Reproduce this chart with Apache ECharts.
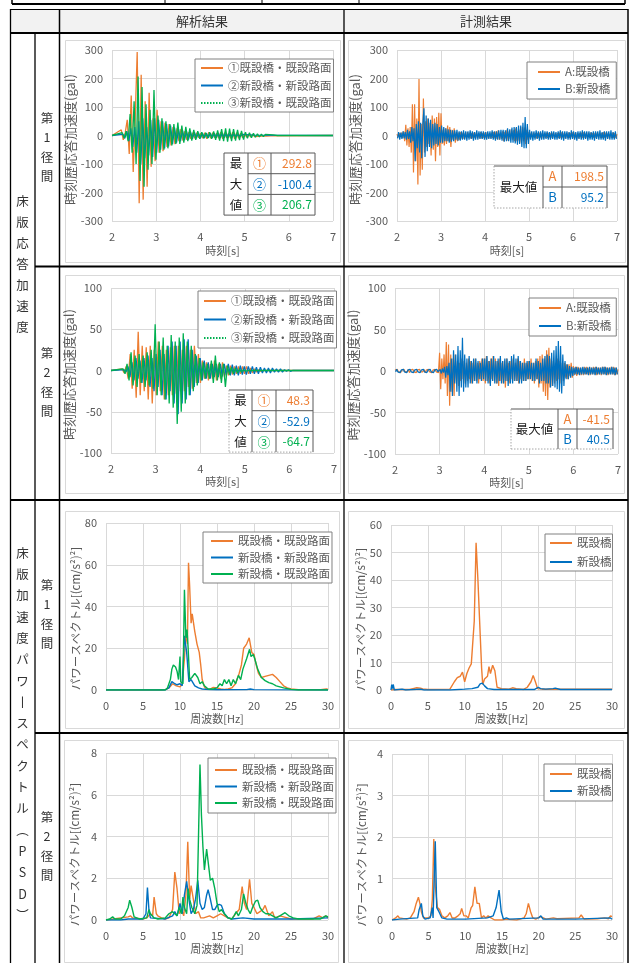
<!DOCTYPE html>
<html><head><meta charset="utf-8">
<script src="https://cdn.jsdelivr.net/npm/echarts@6/dist/echarts.min.js"></script>
<style>html,body{margin:0;padding:0;background:#fff;}#c{width:631px;height:963px;}</style>
</head><body><div id="c"></div>
<script>
// ---------------- DATA ----------------
const colHeaders = ['解析結果', '計測結果'];
const rowGroupLabels = ['床版応答加速度', '床版加速度パワースペクトル（PSD）'];
const spanLabels = ['第1径間', '第2径間', '第1径間', '第2径間'];

const anaNames = ['①既設橋・既設路面', '②新設橋・新設路面', '③新設橋・既設路面'];
const measNames = ['A:既設橋', 'B:新設橋'];
const psdAnaNames = ['既設橋・既設路面', '新設橋・新設路面', '新設橋・既設路面'];
const psdMeasNames = ['既設橋', '新設橋'];

const timeAxis = [2, 7, 1];
const accelAxis1 = [-300, 300, 100];
const accelAxis2 = [-100, 100, 50];
const freqAxis = [0, 30, 5];
const psdAxisA1 = [0, 80, 20];
const psdAxisM1 = [0, 60, 10];
const psdAxisA2 = [0, 8, 2];
const psdAxisM2 = [0, 4, 1];

// analysis time histories: sampled every ANA_STEP s from given start
const ANA_STEP = 0.045;
const ana1Start = [2.21, 2.245, 2.23];
const ana1_s1 = [20,-15,10,55,-65,140,-128,60,292.8,-238,213,-225,120,-180,150,-110,60,-90,90,-60,50,-55,45,-40,40,-35,30,-30,25,-20,22,-18,15,-15,12,-12,10,-10,10,-8,8,-10,10,-12,12,-10,10,-8,8,-10,12,-12,10,-8,8,-10,12,-12,10,-10,8,-8,6,-6,5,-5,4,-4,3,-3,2,-2,2,-2,1,-1,1,-1,0];
const ana1_s2 = [5,-10,15,-20,25,-40,30,-60,50,-100.4,60,-80,30,-70,55,-75,60,-60,55,-50,50,-45,40,-38,35,-30,28,-25,22,-20,18,-16,15,-14,13,-12,12,-10,10,-10,9,-9,8,-8,8,-8,8,-8,9,-9,9,-8,8,-7,7,-6,6,-5,5,-4,4,-3,3,-2,2,-1,1,0];
const ana1_s3 = [10,-10,15,-20,75,-60,120,-100,206.7,-160,170,-180,110,-120,90,-100,160,-85,70,-60,60,-50,50,-45,40,-35,40,-30,45,-30,35,-25,30,-20,25,-18,20,-15,15,-12,12,-10,10,-10,12,-12,14,-15,18,-18,22,-20,25,-22,24,-20,22,-18,20,-16,16,-14,12,-10,10,-8,8,-6,6,-5,5,-4,4,-3,3,-2,2,-1,0];
const ana1Max = [292.8, -100.4, 206.7];

const ana2Start = [2.25, 2.29, 2.27];
const ana2_s1 = [2,-3,5,-10,20,-22,25,-33,47,-30,30,-25,28,-35,30,-40,25,-30,35,-25,30,-35,25,-30,28,-30,30,-28,30,-25,25,-25,30,-20,25,-22,30,-15,20,-15,12,-10,10,-12,8,-10,12,-12,8,-10,10,-8,6,-6,6,-5,5,-4,5,-4,5,-4,5,-4,3,-3,2,-2,1,-1,0];
const ana2_s2 = [1,-2,5,-8,10,-12,15,-10,12,-15,15,-12,18,-20,15,-25,20,-20,25,-30,20,-35,30,-25,35,-40,30,-52.9,35,-40,38,-35,38,-30,25,-20,18,-15,15,-12,12,-10,10,-10,8,-8,8,-8,8,-7,8,-6,8,-6,7,-6,6,-6,6,-5,5,-5,5,-4,5,-4,4,-4,4,-3,3,-3,3,-3,3,-2,2,-2,2,-2,1,-1,1,-1,0];
const ana2_s3 = [2,-4,8,-12,22,-18,18,-20,20,-15,18,-20,22,-18,25,-22,56,-30,35,-30,40,-35,30,-40,43,-45,35,-64.7,40,-50,45,-40,35,-30,30,-25,20,-18,15,-12,10,-10,8,-10,12,-15,18,-12,10,-15,8,-20,6,-5,4,-4,3,-3,2,-2,1,-1,0];
const ana2Max = [48.3, -52.9, -64.7];

// measured time histories: sampled every MEAS_STEP s from given start
const MEAS_STEP = 0.025;
const meas1Start = [2.0, 2.0125];
const meas1_A = [5,-6,8,-5,10,-8,15,-20,38,-35,25,-40,30,-60,110,-130,110,-90,60,-172,198.5,-140,40,-120,130,-60,50,-40,60,-30,45,-70,70,-50,60,-90,65,-40,80,-70,
78,-30,20,-35,25,-30,35,-20,30,-40,20,-15,25,-25,12,-20,10,-15,12,-10,10,-12,8,-10,12,-8,10,-10,8,-10,10,-8,10,-8,8,-10,12,-10,8,-8,
10,-8,12,-10,8,-10,10,-8,12,-10,15,-12,18,-15,10,-12,15,-20,12,-10,20,-18,15,-12,22,-15,18,-20,25,-20,15,-18,20,-25,30,-20,28,-30,20,-15,
12,-10,10,-8,10,-8,8,-10,8,-8,10,-8,8,-10,8,-8,10,-8,8,-6,8,-8,10,-8,8,-6,8,-8,10,-8,12,-8,8,-10,8,-8,10,-8,8,-6,
12,-8,10,-8,8,-10,8,-6,10,-8,12,-8,8,-8,10,-8,10,-6,8,-8,8,-8,10,-6,10,-8,8,-8,12,-8,10,-6,8,-10,8,-8,10,-8,8,-8,5];
const meas1_B = [-10,12,-15,10,-12,15,-10,12,-15,20,-12,15,-25,30,-20,25,-90,40,-45,50,-60,45,-80,40,95.2,-75,70,-55,60,-40,55,-45,40,-35,45,-30,40,-35,30,-25,
35,-25,30,-20,25,-20,22,-25,20,-22,18,-20,18,-15,20,-18,15,-18,15,-15,18,-15,15,-18,15,-15,18,-12,15,-18,12,-15,18,-15,15,-12,15,-12,15,-15,
12,-15,15,-12,15,-12,18,-15,15,-18,15,-15,18,-15,20,-18,20,-22,18,-20,25,-20,22,-25,28,-25,30,-28,30,-32,35,-30,35,-40,45,-45,65,-45,40,-30,
20,-15,15,-18,15,-15,18,-12,15,-18,15,-15,18,-15,15,-12,15,-15,12,-15,15,-12,15,-15,12,-15,15,-12,18,-15,15,-18,15,-12,15,-15,12,-15,18,-12,
15,-15,12,-18,15,-12,15,-15,18,-15,15,-12,15,-18,15,-15,12,-15,15,-18,15,-12,15,-15,18,-15,12,-15,15,-18,15,-12,15,-15,18,-15,12,-15,15,-12];
const meas1Max = [198.5, 95.2];

const meas2Start = [2.0, 2.0125];
const meas2_A = [1,-1,2,-1,1,-2,1,-1,2,-1,1,-1,2,-2,1,-1,2,-1,1,-2,1,-1,2,-1,1,-1,2,-2,1,-1,2,-1,1,-2,1,-1,2,-1,1,-2,
22,-22,15,-10,20,-15,35,-30,32,-42,20,-25,15,-30,20,-15,12,-18,10,-12,15,-10,12,-15,10,-12,15,-10,12,-15,10,-12,15,-12,10,-15,12,-10,15,-12,
15,-15,18,-12,12,-15,15,-10,18,-12,15,-15,12,-18,15,-12,10,-15,12,-20,15,-12,10,-15,12,-10,15,-12,10,-12,15,-15,12,-10,10,-12,15,-12,10,-10,
12,-10,15,-12,10,-15,12,-10,15,-20,18,-15,20,-25,15,-30,25,-35,28,-20,15,-18,12,-15,10,-12,15,-10,12,-15,10,-12,10,-8,8,-10,8,-6,10,-8,
6,-5,5,-6,5,-4,4,-5,4,-5,5,-4,5,-4,4,-5,4,-4,5,-4,5,-5,4,-4,4,-5,5,-4,5,-4,4,-5,4,-4,5,-4,5,-5,4,-4,2];
const meas2_B = [-1,2,-1,1,-2,1,-1,2,-1,1,-2,1,-1,2,-1,1,-2,1,-1,2,-1,1,-2,1,-1,2,-1,1,-2,1,-1,2,-1,1,-2,1,-1,2,-1,1,
2,-3,3,-2,5,-8,6,-5,10,-25,15,-30,25,-15,20,-25,30,-30,25,-20,40,-25,20,-20,15,-20,18,-15,12,-15,15,-12,15,-15,12,-10,10,-12,15,-10,
15,-12,18,-15,12,-18,15,-12,18,-15,12,-15,15,-12,18,-15,12,-15,15,-12,15,-18,12,-15,18,-15,20,-12,15,-12,18,-15,12,-15,10,-12,10,-12,12,-10,
12,-10,10,-12,10,-12,15,-10,12,-15,10,-12,15,-12,18,-15,20,-15,18,-20,22,-18,25,-20,30,-22,36,-25,30,-27,20,-18,12,-10,8,-10,6,-8,5,-6,
4,-4,5,-4,4,-5,4,-4,5,-4,4,-4,4,-5,5,-4,4,-4,4,-5,5,-4,4,-4,4,-4,5,-4,5,-5,4,-4,4,-4,5,-4,4,-5,4,-4];
const meas2Max = [-41.5, 40.5];

// PSD curves: [frequency Hz, PSD]
const psdA1_1 = [[0,0],[7.5,0],[8,0.2],[8.5,1],[9,3],[9.5,2],[10,1.5],[10.3,3],[10.6,15],[10.8,27],[11.0,22],[11.15,61],[11.3,50],[11.5,32],[11.65,36.5],[12.0,28],[12.3,22],[12.6,18],[12.8,12],[13.0,5],[13.3,1.5],[13.6,0.5],[14,0.3],[14.5,1.2],[15,1],[15.5,0.5],[16,0.3],[16.5,0.5],[17,1],[17.5,3],[18,8],[18.3,12],[18.6,20],[19,22],[19.35,25],[19.7,18],[20,17],[20.3,12],[20.6,8],[21,6],[21.5,6.5],[22,7],[22.5,7.5],[23,6],[23.5,4],[24,2],[24.5,1],[25,0.5],[26,0.2],[29,0.2],[29.8,0.5],[30,0.3]];
const psdA1_2 = [[0,0],[8,0],[8.5,1],[8.9,4],[9.3,3],[9.6,2.5],[10,3],[10.3,2],[10.6,26],[10.9,18],[11.2,4],[11.5,5],[12,2],[12.5,1],[13,0.5],[14,0.2],[15,0.1],[19,0.2],[19.5,0.5],[20,0.2],[30,0]];
const psdA1_3 = [[0,0],[8,0],[8.3,1],[8.7,5],[8.9,10],[9.1,12],[9.4,11],[9.6,9],[9.8,5],[10.0,16],[10.1,4],[10.4,3],[10.6,48],[10.8,25],[10.95,29],[11.1,20],[11.3,5],[11.6,6],[12.0,8],[12.4,6],[12.7,3],[13.0,4],[13.3,2],[13.8,0.5],[14.5,0.5],[15,1],[15.4,3],[15.7,2],[16.0,5],[16.3,3],[16.6,5],[16.9,2],[17.2,5],[17.5,3],[17.9,7],[18.2,5],[18.5,10],[19.0,15],[19.4,19.5],[19.6,16],[19.9,17],[20.1,15],[20.5,10],[21,6],[21.5,4.5],[22,3.5],[22.5,3],[23,2],[24,1],[25,0.3],[26,0],[30,0]];

const psdM1_A = [[0,0],[0.5,0.2],[2.5,0.2],[3,0.5],[3.5,0.8],[4,0.7],[4.3,0.4],[5,0.2],[8,0.3],[8.2,1],[8.6,3],[9.0,4.5],[9.4,5],[9.7,6.5],[10.0,3],[10.3,6],[10.6,8],[10.9,9.5],[11.1,10],[11.3,25],[11.55,53.5],[11.8,40],[12.0,27],[12.3,8],[12.45,2],[12.7,4],[13.1,5],[13.3,8.5],[13.5,6],[13.8,9],[14.1,7],[14.4,1],[14.6,0.5],[15,0.5],[16,0.3],[16.5,0.8],[17,0.5],[18,0.2],[18.5,1],[19,3],[19.3,5.3],[19.6,3],[19.9,0.5],[20.5,0.3],[22,0.3],[30,0.3]];
const psdM1_B = [[0,0],[0.1,2],[0.2,0.5],[0.3,2],[0.45,0],[1.5,0.3],[2,0],[4,0.3],[4.5,0],[8,0],[10,0.3],[11,0.5],[11.8,1],[12.1,2.2],[12.4,2.5],[12.7,1.5],[13.1,0.5],[14,0.2],[19.5,0.2],[20,1],[20.3,0.5],[21,0.3],[22,0.5],[22.3,0.7],[23,0.2],[30,0.2]];

const psdA2_1 = [[0,0],[1,0.05],[3,0.15],[3.3,0.2],[3.6,0.1],[5,0.05],[5.5,0.1],[6.0,0.3],[6.3,0.2],[6.5,1.1],[6.8,0.3],[7.0,0.2],[7.5,0.1],[8,0.05],[8.5,0.1],[9.0,0.5],[9.3,2.3],[9.6,1.5],[9.9,0.3],[10.2,0.5],[10.5,0.2],[10.8,1.2],[11.05,3.75],[11.3,1.0],[11.5,1.65],[11.8,1.0],[12.1,0.3],[12.5,0.4],[12.8,0.1],[13.2,0.1],[14,0.2],[14.5,0.1],[15,0.2],[15.5,0.3],[16,0.2],[16.5,0.1],[17,0.05],[17.5,0.3],[18,0.5],[18.4,1.6],[18.7,0.8],[19.0,0.5],[19.4,1.95],[19.7,0.8],[20.0,0.6],[20.4,0.3],[20.8,0.4],[21.2,0.5],[21.5,0.7],[21.8,0.4],[22,0.2],[22.5,0.4],[22.8,0.1],[23.5,0.2],[24,0.15],[25,0.05],[28,0.05],[28.8,0.2],[29.3,0.1],[29.7,0.2],[30,0.1]];
const psdA2_2 = [[0,0],[2,0],[3,0.05],[5,0.05],[5.4,0.3],[5.6,1.55],[5.8,0.5],[6.0,0.1],[8,0.05],[9,0.2],[9.3,0.4],[9.6,0.2],[10.0,0.8],[10.3,0.3],[10.6,1.2],[10.9,1.85],[11.2,1.0],[11.5,0.3],[11.8,0.5],[12.1,1.0],[12.4,1.9],[12.7,0.8],[13.0,0.5],[13.3,0.6],[13.6,1.2],[13.8,1.45],[14.1,1.0],[14.4,0.5],[14.7,0.5],[15.0,0.7],[15.3,0.75],[15.6,0.7],[16,0.3],[16.5,0.1],[17,0.05],[18.5,0.1],[20,0.05],[25,0.05],[30,0.1]];
const psdA2_3 = [[0,0],[0.5,0.05],[0.9,0.15],[1.2,0.05],[2,0.05],[2.5,0.2],[3.0,0.6],[3.2,0.95],[3.5,0.6],[3.8,0.15],[4.5,0.05],[5.5,0.1],[5.8,0.5],[6.0,0.3],[6.5,0.1],[7,0.05],[8,0.1],[8.5,0.3],[9,0.4],[9.3,0.3],[9.6,0.2],[9.9,0.6],[10.2,0.3],[10.4,1.1],[10.6,0.6],[10.9,0.3],[11.1,1.5],[11.3,1.0],[11.6,0.6],[12.0,0.3],[12.3,0.7],[12.5,4.0],[12.7,7.45],[12.9,5.0],[13.1,3.5],[13.3,2.4],[13.6,3.4],[13.9,2.5],[14.1,1.9],[14.4,2.0],[14.7,1.5],[15.0,0.8],[15.3,0.4],[15.6,0.5],[16,0.3],[16.5,0.1],[17,0.05],[17.3,0.2],[17.6,0.4],[17.9,0.2],[18.3,0.5],[18.6,1.25],[18.9,0.8],[19.2,0.5],[19.5,0.3],[19.8,0.6],[20.2,0.9],[20.5,0.95],[20.8,0.6],[21.2,0.4],[21.6,0.3],[22,0.3],[22.5,0.2],[23,0.1],[23.5,0.2],[24.2,0.35],[24.7,0.2],[25.3,0.1],[26,0.05],[29,0.05],[29.7,0.2],[30,0.15]];

const psdM2_A = [[0,0],[0.5,0.05],[0.8,0.1],[1.0,0.05],[2,0.02],[2.5,0.05],[3.0,0.2],[3.3,0.4],[3.6,0.55],[3.8,0.4],[4.0,0.2],[4.3,0.05],[5,0.05],[5.3,0.1],[5.5,0.5],[5.7,1.95],[5.9,0.8],[6.2,0.3],[6.5,0.25],[6.8,0.1],[7.2,0.05],[7.6,0.1],[7.9,0.18],[8.2,0.05],[8.6,0.05],[9.0,0.1],[9.3,0.15],[9.5,0.28],[9.8,0.1],[10.1,0.1],[10.4,0.05],[10.8,0.3],[11.0,0.35],[11.3,0.8],[11.6,0.4],[11.9,0.4],[12.2,0.05],[12.5,0.1],[12.8,0.05],[13.1,0.1],[13.5,0.05],[14,0],[15,0],[15.5,0.02],[17,0],[18,0.05],[18.3,0.15],[18.6,0.4],[18.9,0.2],[19.2,0.05],[19.6,0.02],[20.2,0.08],[20.5,0.06],[21,0.02],[22,0.05],[22.5,0.03],[25.5,0.05],[25.8,0.12],[26.2,0.02],[28,0.03],[29,0.05],[29.5,0.03],[29.8,0.1],[30,0.08]];
const psdM2_B = [[0,0],[1,0.02],[3.5,0.05],[3.7,0.25],[4.0,0.4],[4.2,0.1],[4.5,0.02],[5.2,0.05],[5.5,0.3],[5.6,0.05],[5.9,1.9],[6.1,0.3],[6.4,0.2],[6.8,0.05],[7.5,0.02],[10,0.02],[13,0.05],[13.8,0.1],[14.2,0.3],[14.6,0.72],[14.9,0.2],[15.2,0.02],[15.6,0.05],[16,0.02],[20,0.05],[20.3,0.1],[20.6,0.02],[25,0.02],[29.8,0.05],[30,0.02]];

// ---------------- RENDER ----------------
const FONT = '"Noto Sans CJK JP", "Noto Sans", sans-serif';
const ORANGE = '#ED7D31', BLUE = '#0070C0', GREEN = '#00B050';
const GRAY = '#595959';

function seqXY(start, step, vals, padEnds) {
  const out = padEnds ? [[timeAxis[0], 0]] : [];
  vals.forEach((v, i) => out.push([+(start + i * step).toFixed(4), v]));
  if (padEnds) out.push([timeAxis[1], 0]);
  return out;
}

const grids = [
  {left:112, top:50, width:221, height:171},
  {left:397, top:50, width:220, height:171},
  {left:111, top:288, width:223, height:165},
  {left:395, top:288, width:223, height:166},
  {left:106, top:523, width:222, height:167},
  {left:391, top:525, width:221, height:165},
  {left:106, top:753, width:222, height:167},
  {left:392, top:754, width:220, height:166}
];

const splitStyle = {show:true, lineStyle:{color:'#d9d9d9', width:1}};
function xAx(gi, r, name, gap) {
  return {type:'value', gridIndex:gi, min:r[0], max:r[1], interval:r[2], name, nameLocation:'middle', nameGap:gap,
    nameTextStyle:{color:GRAY, fontSize:11, fontFamily:FONT},
    axisLine:{show:false, onZero:false}, axisTick:{show:false},
    axisLabel:{color:GRAY, fontSize:11, margin:10, fontFamily:FONT}, splitLine:splitStyle};
}
function yAx(gi, r, name, gap, fs, shift) {
  return {type:'value', gridIndex:gi, min:r[0], max:r[1], interval:r[2], name, nameLocation:'middle', nameGap:gap,
    nameTextStyle:{color:GRAY, fontSize:fs, fontFamily:FONT, padding:[0, shift * 2, 0, 0]},
    axisLine:{show:false, onZero:false}, axisTick:{show:false},
    axisLabel:{color:GRAY, fontSize:11, margin:9, fontFamily:FONT}, splitLine:splitStyle};
}
const accName = '時刻歴応答加速度(gal)';
const psdName = 'パワースペクトル[(cm/s²)²]';
const xAxes = [
  xAx(0, timeAxis, '時刻[s]', 24), xAx(1, timeAxis, '時刻[s]', 24),
  xAx(2, timeAxis, '時刻[s]', 23), xAx(3, timeAxis, '時刻[s]', 23),
  xAx(4, freqAxis, '周波数[Hz]', 23), xAx(5, freqAxis, '周波数[Hz]', 23),
  xAx(6, freqAxis, '周波数[Hz]', 23), xAx(7, freqAxis, '周波数[Hz]', 23)
];
const yAxes = [
  yAx(0, accelAxis1, accName, 28, 13, 4), yAx(1, accelAxis1, accName, 28, 13, 4),
  yAx(2, accelAxis2, accName, 28, 13, 4), yAx(3, accelAxis2, accName, 27, 13, 4),
  yAx(4, psdAxisA1, psdName, 24, 11.5, 12), yAx(5, psdAxisM1, psdName, 24, 11.5, 12),
  yAx(6, psdAxisA2, psdName, 26, 11.5, 18), yAx(7, psdAxisM2, psdName, 25, 11.5, 18)
];

function ls(name, data, color, gi, width) {
  return {type:'line', name, data, xAxisIndex:gi, yAxisIndex:gi, symbol:'none', showSymbol:false,
    lineStyle:{color, width: width || 1.3}, itemStyle:{color}, silent:true, animation:false, clip:true};
}
const series = [
  ls(anaNames[0], seqXY(ana1Start[0], ANA_STEP, ana1_s1, true), ORANGE, 0),
  ls(anaNames[1], seqXY(ana1Start[1], ANA_STEP, ana1_s2, true), BLUE, 0),
  ls(anaNames[2], seqXY(ana1Start[2], ANA_STEP, ana1_s3, true), GREEN, 0),
  ls(measNames[0], seqXY(meas1Start[0], MEAS_STEP, meas1_A, false), ORANGE, 1, 1.2),
  ls(measNames[1], seqXY(meas1Start[1], MEAS_STEP, meas1_B, false), BLUE, 1, 1.2),
  ls(anaNames[0], seqXY(ana2Start[0], ANA_STEP, ana2_s1, true), ORANGE, 2),
  ls(anaNames[1], seqXY(ana2Start[1], ANA_STEP, ana2_s2, true), BLUE, 2),
  ls(anaNames[2], seqXY(ana2Start[2], ANA_STEP, ana2_s3, true), GREEN, 2),
  ls(measNames[0], seqXY(meas2Start[0], MEAS_STEP, meas2_A, false), ORANGE, 3, 1.2),
  ls(measNames[1], seqXY(meas2Start[1], MEAS_STEP, meas2_B, false), BLUE, 3, 1.2),
  ls(psdAnaNames[0], psdA1_1, ORANGE, 4, 1.4),
  ls(psdAnaNames[1], psdA1_2, BLUE, 4, 1.4),
  ls(psdAnaNames[2], psdA1_3, GREEN, 4, 1.4),
  ls(psdMeasNames[0], psdM1_A, ORANGE, 5, 1.4),
  ls(psdMeasNames[1], psdM1_B, BLUE, 5, 1.4),
  ls(psdAnaNames[0], psdA2_1, ORANGE, 6, 1.4),
  ls(psdAnaNames[1], psdA2_2, BLUE, 6, 1.4),
  ls(psdAnaNames[2], psdA2_3, GREEN, 6, 1.4),
  ls(psdMeasNames[0], psdM2_A, ORANGE, 7, 1.4),
  ls(psdMeasNames[1], psdM2_B, BLUE, 7, 1.4)
];

function lg(names, left, top, padding, gap, dottedLast) {
  return {orient:'vertical', left, top, padding, itemGap:gap, itemWidth:22, itemHeight:14,
    backgroundColor:'#fff', borderColor:'#808080', borderWidth:1, borderRadius:0, selectedMode:false,
    itemStyle:{opacity:0, borderWidth:0},
    textStyle:{color:GRAY, fontSize:11.5, fontFamily:FONT, lineHeight:14},
    data: names.map((n, i) => (dottedLast && i === names.length - 1) ? {name:n, lineStyle:{type:[1.5,1.5]}} : {name:n})};
}
const legends = [
  lg(anaNames, 195, 59, [2,2,2,5], 3.5, true),
  lg(measNames, 527, 62, [3,6,3,10], 3),
  lg(anaNames, 198, 291, [3,2,3,5], 4.5, true),
  lg(measNames, 529, 298, [3,5,3,9], 4),
  lg(psdAnaNames, 203, 532, [2,2,2,7], 2.5),
  lg(psdMeasNames, 545, 534, [2,1,2,4], 5),
  lg(psdAnaNames, 208, 758, [5,2,3,6], 2.5),
  lg(psdMeasNames, 544, 764, [3,1,3,5], 3)
];

// ---- graphic: table frame, labels, max tables ----
const G = [];
function line(x1, y1, x2, y2, w, color, dash, z) {
  G.push({type:'line', shape:{x1, y1, x2, y2}, style:{stroke: color || '#000', lineWidth: w || 1, lineDash: dash || null}, z: z || 0, silent:true});
}
function txt(x, y, text, opt) {
  G.push({type:'text', x, y, z: (opt && opt.z) || 20, silent:true, style:Object.assign({text, fontFamily:FONT, fontSize:12.5, fill:'#333', align:'center', verticalAlign:'middle'}, opt || {})});
}
// top cut-off row
line(12, 0, 12, 4, 1.5); line(165, 0, 165, 4, 1); line(262, 0, 262, 4, 1); line(359, 0, 359, 4, 1); line(625, 0, 625, 4, 1.5);
line(12, 4, 625, 4, 2);
// header
G.push({type:'rect', shape:{x:10, y:9, width:618, height:24}, style:{fill:'#f2f2f2'}, z:-5, silent:true});
line(10, 9.5, 628, 9.5, 1);
line(10, 33, 628, 33, 2);
// verticals
line(10.5, 9, 10.5, 963, 1.3); line(35, 33, 35, 963, 1.3); line(59.5, 9, 59.5, 963, 1.5);
line(344, 9, 344, 963, 1.3); line(628, 9, 628, 963, 1.5);
// horizontals
line(35, 266.5, 628, 266.5, 2); line(10, 500, 628, 500, 2); line(35, 733, 628, 733, 2);
// chart area borders
[[65,40,275,222],[348,40,277,222],[65,275,275,218],[348,275,276,218],[65,511,274,217],[348,511,276,217],[64,740,274,222],[348,740,275,222]]
  .forEach(r => G.push({type:'rect', shape:{x:r[0]+0.5, y:r[1]+0.5, width:r[2], height:r[3]}, style:{fill:null, stroke:'#d9d9d9', lineWidth:1}, z:-1, silent:true}));
// header texts
txt(202, 21, colHeaders[0], {fontSize:13}); txt(486, 21, colHeaders[1], {fontSize:13});
// vertical labels
function vert(s) {
  const map = {'ー':'丨', '（':'︵', '）':'︶'};
  return Array.from(s).map(c => map[c] || c).join('\n');
}
txt(22.5, 264, vert(rowGroupLabels[0]), {lineHeight:21});
txt(22.5, 734, vert(rowGroupLabels[1]), {lineHeight:21.3});
txt(47, 147, vert(spanLabels[0]), {lineHeight:19.5});
txt(47, 382, vert(spanLabels[1]), {lineHeight:19.5});
txt(47, 614, vert(spanLabels[2]), {lineHeight:19.5});
txt(47, 846, vert(spanLabels[3]), {lineHeight:19.5});

function maxTable(x, y, colW, rowH, first, keys, vals, colors, dottedOuter) {
  const W = colW[0] + colW[1] + colW[2], H = rowH * keys.length, z = 30;
  G.push({type:'rect', shape:{x, y, width:W, height:H}, style:{fill:'#fff'}, z:z-1, silent:true});
  const dk = '#595959', lt = '#a6a6a6';
  line(x, y, x + W, y, 1, dk, null, z);
  line(x + W, y, x + W, y + H, 1, dk, null, z);
  line(x, y, x, y + H, 1, dottedOuter ? lt : dk, dottedOuter ? [1.5, 1.5] : null, z);
  line(x, y + H, x + W, y + H, 1, dottedOuter ? lt : dk, dottedOuter ? [1.5, 1.5] : null, z);
  line(x + colW[0], y, x + colW[0], y + H, 1, dk, null, z);
  line(x + colW[0] + colW[1], y, x + colW[0] + colW[1], y + H, 1, dk, null, z);
  for (let r = 1; r < keys.length; r++) line(x + colW[0], y + r * rowH, x + W, y + r * rowH, 1, dk, null, z);
  if (Array.isArray(first)) first.forEach((c, r) => txt(x + colW[0] / 2, y + rowH * (r + 0.5), c, {fontSize:12.5, fill:'#1a1a1a', z:z+1}));
  else txt(x + colW[0] / 2, y + H / 2, first, {fontSize:12.5, fill:'#1a1a1a', z:z+1});
  keys.forEach((k, r) => {
    txt(x + colW[0] + colW[1] / 2, y + rowH * (r + 0.5), k, {fontSize:13, fill:colors[r], z:z+1});
    txt(x + W - 3, y + rowH * (r + 0.5), vals[r].toFixed(1), {fontSize:12, fill:colors[r], align:'right', z:z+1});
  });
}
maxTable(224, 153, [24, 23, 44], 20.7, ['最', '大', '値'], ['①', '②', '③'], ana1Max, [ORANGE, BLUE, GREEN], false);
maxTable(494, 166, [49, 19, 45], 21, '最大値', ['A', 'B'], meas1Max, [ORANGE, BLUE], true);
maxTable(229, 390, [23, 24, 37], 20.7, ['最', '大', '値'], ['①', '②', '③'], ana2Max, [ORANGE, BLUE, GREEN], true);
maxTable(511, 409, [47, 19, 36], 20, '最大値', ['A', 'B'], meas2Max, [ORANGE, BLUE], true);

const chart = echarts.init(document.getElementById('c'), null, {renderer:'canvas'});
chart.setOption({
  animation:false,
  backgroundColor:'#fff',
  textStyle:{fontFamily:FONT},
  grid: grids,
  xAxis: xAxes,
  yAxis: yAxes,
  legend: legends,
  series,
  graphic: {elements: G}
});
</script></body></html>
